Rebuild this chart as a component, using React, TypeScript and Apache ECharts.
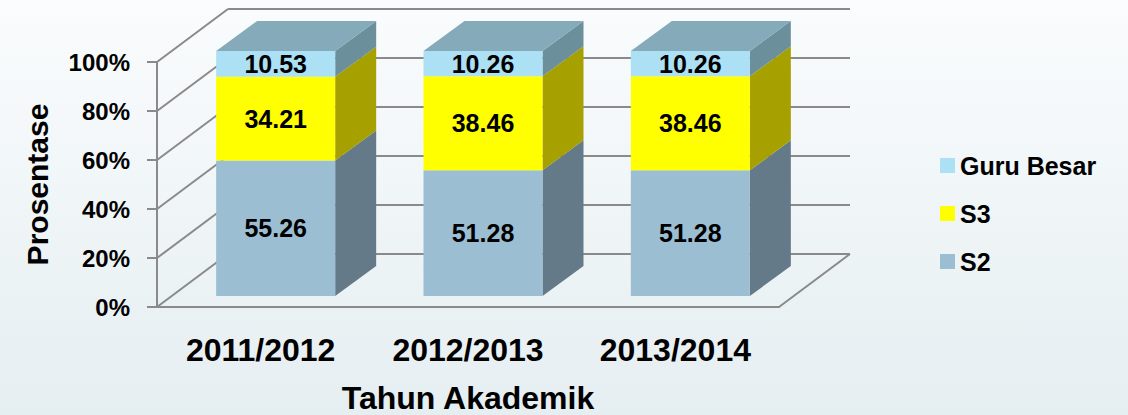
import React, { useEffect, useRef } from "react";
import * as echarts from "echarts";

const categories = ["2011/2012", "2012/2013", "2013/2014"];
const s2Values = [55.26, 51.28, 51.28];
const s3Values = [34.21, 38.46, 38.46];
const guruBesarValues = [10.53, 10.26, 10.26];
const yTicks = [0, 20, 40, 60, 80, 100];

const stackSeries = [
  { name: "S2", values: s2Values, front: "#9CBED2", side: "#647A88" },
  { name: "S3", values: s3Values, front: "#FFFF00", side: "#A6A000" },
  { name: "Guru Besar", values: guruBesarValues, front: "#ACE0F5", side: "#6C8F9C" },
];
const TOP_COLOR = "#85AAB9";
const GRID_COLOR = "#8A8A8A";
const FONT = "Liberation Sans";

// 3D geometry (pixels)
const WALL_DX = 71;
const WALL_DY = -53;
const OFF_X = 15;
const OFF_Y = -11;
const DEPTH_X = 41;
const DEPTH_Y = -30;
const BAR_RATIO = 0.574;

export default function App() {
  const ref = useRef<HTMLDivElement>(null);
  useEffect(() => {
    if (!ref.current) return;
    const chart = echarts.init(ref.current, undefined, { renderer: "svg" });

    const bases: number[][] = [];
    let acc = categories.map(() => 0);
    stackSeries.forEach((s) => {
      bases.push(acc.slice());
      acc = acc.map((a, i) => a + s.values[i]);
    });

    const wallSeries: any = {
      type: "custom",
      name: "walls",
      silent: true,
      clip: false,
      z: 1,
      encode: { x: 0, y: 1 },
      data: yTicks.map((v) => [0, v]),
      renderItem: (params: any, api: any) => {
        const cs = params.coordSys;
        const v = api.value(1);
        const y = api.coord([0, v])[1];
        const style = { stroke: GRID_COLOR, lineWidth: 2 };
        const children: any[] = [
          { type: "line", shape: { x1: cs.x, y1: y, x2: cs.x + WALL_DX, y2: y + WALL_DY }, style },
          {
            type: "line",
            shape: { x1: cs.x + WALL_DX, y1: y + WALL_DY, x2: cs.x + cs.width + WALL_DX, y2: y + WALL_DY },
            style,
          },
        ];
        if (v === 0) {
          children.push({
            type: "line",
            shape: { x1: cs.x + cs.width, y1: y, x2: cs.x + cs.width + WALL_DX, y2: y + WALL_DY },
            style,
          });
        }
        return { type: "group", children };
      },
    };

    const barSeries: any[] = stackSeries.map((s, si) => ({
      type: "custom",
      name: s.name,
      clip: false,
      z: 3,
      itemStyle: { color: s.front },
      encode: { x: 0, y: [1, 2] },
      data: s.values.map((v, i) => [i, bases[si][i], v]),
      renderItem: (params: any, api: any) => {
        const cat = api.value(0);
        const base = api.value(1);
        const val = api.value(2);
        const p0 = api.coord([cat, base]);
        const p1 = api.coord([cat, base + val]);
        const band = api.size([1, 0])[0];
        const w = band * BAR_RATIO;
        const x = p0[0] - w / 2 + OFF_X;
        const yb = p0[1] + OFF_Y;
        const yt = p1[1] + OFF_Y;
        const children: any[] = [
          {
            type: "polygon",
            shape: {
              points: [
                [x + w, yt],
                [x + w + DEPTH_X, yt + DEPTH_Y],
                [x + w + DEPTH_X, yb + DEPTH_Y],
                [x + w, yb],
              ],
            },
            style: { fill: s.side },
          },
          { type: "rect", shape: { x, y: yt, width: w, height: yb - yt }, style: { fill: s.front } },
        ];
        if (si === stackSeries.length - 1) {
          children.push({
            type: "polygon",
            shape: {
              points: [
                [x, yt],
                [x + DEPTH_X, yt + DEPTH_Y],
                [x + w + DEPTH_X, yt + DEPTH_Y],
                [x + w, yt],
              ],
            },
            style: { fill: TOP_COLOR },
          });
        }
        children.push({
          type: "text",
          style: {
            text: val.toFixed(2),
            x: x + w / 2,
            y: (yt + yb) / 2,
            align: "center",
            verticalAlign: "middle",
            fill: "#000",
            font: `bold 25px "${FONT}"`,
          },
        });
        return { type: "group", children };
      },
    }));

    chart.setOption({
      animation: false,
      backgroundColor: "transparent",
      grid: { left: 157, right: 349, top: 62, bottom: 108, outerBoundsMode: "none", containLabel: false },
      legend: {
        orient: "vertical",
        left: 935,
        top: 148,
        itemWidth: 15,
        itemHeight: 15,
        itemGap: 23,
        icon: "rect",
        data: ["Guru Besar", "S3", "S2"],
        textStyle: { fontFamily: FONT, fontWeight: "bold", fontSize: 25, color: "#000" },
        selectedMode: false,
      },
      xAxis: {
        type: "category",
        data: categories,
        name: "Tahun Akademik",
        nameLocation: "middle",
        nameGap: 75,
        nameTextStyle: { fontFamily: FONT, fontWeight: "bold", fontSize: 32, color: "#000" },
        axisLine: { show: true, lineStyle: { color: GRID_COLOR, width: 2 } },
        axisTick: { show: false },
        axisLabel: { margin: 27, fontFamily: FONT, fontWeight: "bold", fontSize: 32, color: "#000" },
      },
      yAxis: {
        type: "value",
        min: 0,
        max: 100,
        interval: 20,
        name: "Prosentase",
        nameLocation: "middle",
        nameGap: 105,
        nameTextStyle: { fontFamily: FONT, fontWeight: "bold", fontSize: 30, color: "#000" },
        axisLine: { show: true, lineStyle: { color: GRID_COLOR, width: 2 } },
        axisTick: { show: true, length: 10, lineStyle: { color: GRID_COLOR, width: 2 } },
        splitLine: { show: false },
        axisLabel: {
          margin: 27,
          formatter: "{value}%",
          fontFamily: FONT,
          fontWeight: "bold",
          fontSize: 24,
          color: "#000",
        },
      },
      series: [wallSeries, ...barSeries],
    });
    return () => chart.dispose();
  }, []);

  return (
    <div
      ref={ref}
      style={{
        position: "fixed",
        left: 0,
        top: 0,
        width: 1128,
        height: 415,
        background: "linear-gradient(to bottom, #FAFCFD 0%, #E5EEF1 100%)",
      }}
    />
  );
}
